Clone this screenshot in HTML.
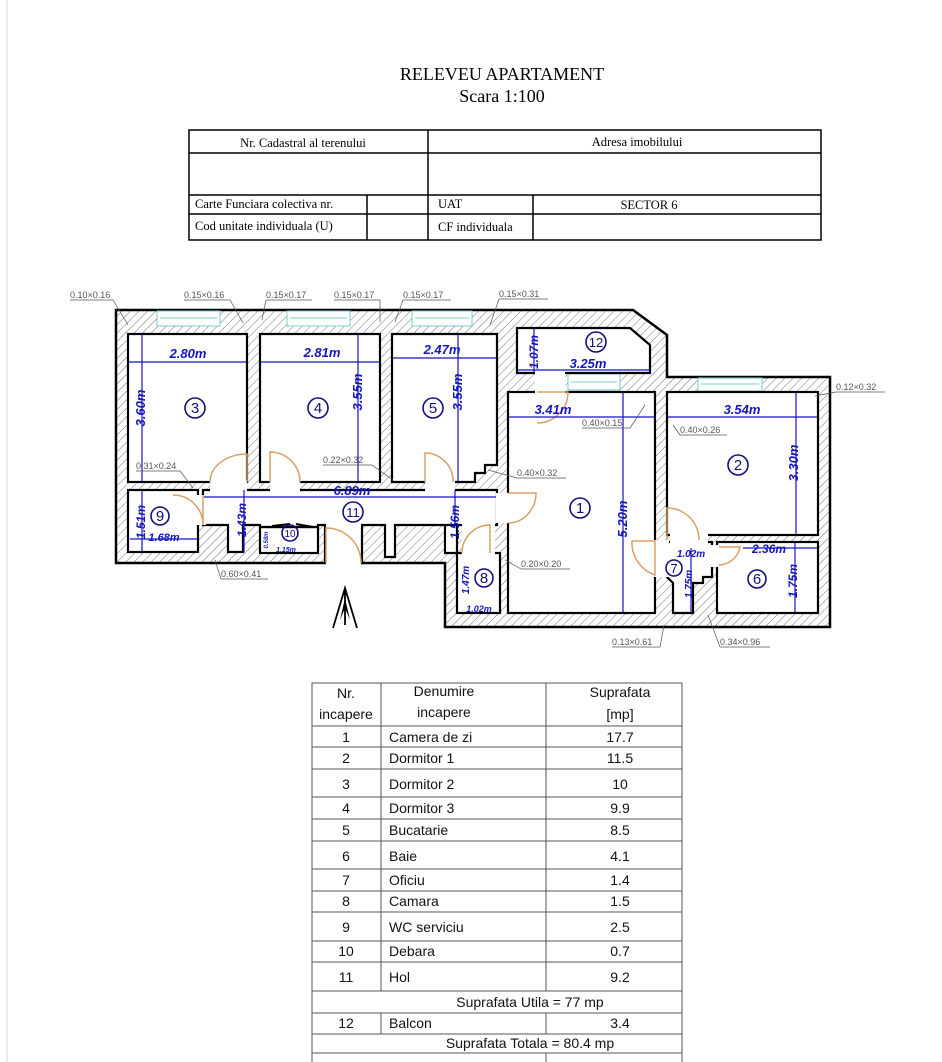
<!DOCTYPE html>
<html><head><meta charset="utf-8"><style>
html,body{margin:0;padding:0;background:#fff;}
body{width:942px;height:1062px;position:relative;overflow:hidden;font-family:"Liberation Sans",sans-serif;}
svg{position:absolute;left:0;top:0;}
</style></head><body>
<svg width="942" height="1062" viewBox="0 0 942 1062" xmlns="http://www.w3.org/2000/svg">
<defs>
<pattern id="h" width="6" height="6" patternUnits="userSpaceOnUse" patternTransform="rotate(45)">
<rect width="6" height="6" fill="#fff"/><line x1="0" y1="0" x2="0" y2="6" stroke="#666" stroke-width="0.9"/>
</pattern>
</defs>
<line x1="7" y1="0" x2="7" y2="1062" stroke="#ddd"/>
<text x="502" y="80" font-family="Liberation Serif" font-size="18" text-anchor="middle">RELEVEU APARTAMENT</text>
<text x="502" y="102" font-family="Liberation Serif" font-size="18" text-anchor="middle">Scara 1:100</text>
<g stroke="#000" stroke-width="1.5" fill="none">
<rect x="189" y="130" width="632" height="110"/>
<line x1="189" y1="153" x2="821" y2="153"/>
<line x1="189" y1="195" x2="821" y2="195"/>
<line x1="189" y1="214" x2="821" y2="214"/>
<line x1="428" y1="130" x2="428" y2="240"/>
<line x1="367" y1="195" x2="367" y2="240"/>
<line x1="533" y1="195" x2="533" y2="240"/>
</g>
<g font-family="Liberation Serif" font-size="12.5">
<text x="303" y="147" text-anchor="middle">Nr. Cadastral al terenului</text>
<text x="637" y="146" text-anchor="middle">Adresa imobilului</text>
<text x="195" y="208">Carte Funciara colectiva nr.</text>
<text x="438" y="208">UAT</text>
<text x="649" y="209" text-anchor="middle">SECTOR 6</text>
<text x="195" y="230">Cod unitate individuala   (U)</text>
<text x="438" y="231">CF   individuala</text>
</g>

<path d="M116,310 L633,310 L667,335 L667,377 L830,377 L830,627 L445,627 L445,563 L116,563 Z" fill="url(#h)" stroke="#000" stroke-width="2.5"/>
<g fill="#fff" stroke="#7cc" stroke-width="1">
<rect x="157" y="311" width="63" height="15"/><line x1="160" y1="318" x2="217" y2="318"/>
<rect x="287" y="311" width="63" height="15"/><line x1="290" y1="318" x2="347" y2="318"/>
<rect x="412" y="311" width="60" height="15"/><line x1="415" y1="318" x2="469" y2="318"/>
<rect x="568" y="374" width="52" height="16"/><line x1="571" y1="382" x2="617" y2="382"/>
<rect x="698" y="378" width="64" height="13"/><line x1="701" y1="384" x2="759" y2="384"/>
</g>
<g fill="#fff" stroke="#000" stroke-width="2.2">
<rect x="128" y="334" width="119" height="148"/>
<rect x="260" y="334" width="120" height="148"/>
<path d="M392,334 L497,334 L497,465 L485,465 L485,473 L475,473 L475,482 L392,482 Z"/>
<path d="M517,328 L630,328 L650,345 L650,373 L517,373 Z"/>
<rect x="508" y="392" width="147" height="221"/>
<rect x="667" y="392" width="151" height="143"/>
<rect x="717" y="542" width="101" height="71"/>
<path d="M667,542 L712,542 L712,577 L703,577 L703,583 L693,583 L693,613 L673,613 L673,583 L667,577 Z"/>
<rect x="128" y="490" width="70" height="62"/>
<rect x="260" y="527" width="58" height="26"/>
<rect x="457" y="553" width="43" height="60"/>
<path d="M203,490 L497,490 L497,525 L445,525 L445,553 L457,553 L457,525 L395,525 L395,557 L385,557 L385,525 L362,525 L362,563 L325,563 L325,525 L318,525 L318,527 L260,527 L260,525 L243,525 L243,552 L228,552 L228,525 L203,525 Z"/>
</g>
<g fill="#fff" stroke="none">
<rect x="210" y="480" width="37" height="12"/>
<rect x="270" y="480" width="30" height="12"/>
<rect x="425" y="480" width="30" height="12"/>
<rect x="496" y="493" width="14" height="30"/>
<rect x="196" y="495" width="10" height="30"/>
<rect x="326" y="555" width="35" height="10"/>
<rect x="462" y="523" width="33" height="32"/>
<rect x="535" y="371" width="30" height="23"/>
<rect x="653" y="540" width="16" height="37"/>
<rect x="670" y="533" width="38" height="11"/>
<rect x="709" y="545" width="10" height="22"/>
<rect x="326" y="523" width="35" height="4"/>
</g>
<g fill="none" stroke="#d9a066" stroke-width="1.5">
<path d="M247,482 L247,454 A37,28 0 0 0 210,482"/>
<path d="M270,482 L270,452 A30,30 0 0 1 300,482"/>
<path d="M425,482 L425,453 A28,28 0 0 1 453,482"/>
<path d="M508,493 L536,493 A28,30 0 0 1 508,523"/>
<path d="M203,495 L203,525 A30,30 0 0 0 173,495"/>
<path d="M326,563 L326,528 A35,35 0 0 1 361,563"/>
<path d="M490,553 L490,525 A28,28 0 0 0 462,553"/>
<path d="M537,392 L568,392 A31,31 0 0 1 537,423"/>
<path d="M667,540 L667,508 A32,32 0 0 1 699,540"/>
<path d="M655,541 L655,575 A34,34 0 0 1 632,541 Z"/>
<path d="M719,547 L740,547 A22,22 0 0 1 719,565"/>
</g>
<path d="M272,526 L290,524 M296,524 L313,527" stroke="#000" stroke-width="2" fill="none"/>

<g stroke="#1515c0" stroke-width="1.2" fill="none">
<line x1="129" y1="362" x2="246" y2="362"/>
<line x1="261" y1="362" x2="379" y2="362"/>
<line x1="393" y1="358" x2="496" y2="358"/>
<line x1="518" y1="370" x2="650" y2="370"/>
<line x1="509" y1="417" x2="654" y2="417"/>
<line x1="668" y1="417" x2="817" y2="417"/>
<line x1="204" y1="497" x2="496" y2="497"/>
<line x1="743" y1="548" x2="817" y2="548"/>
<line x1="142" y1="334" x2="142" y2="482"/>
<line x1="358" y1="334" x2="358" y2="482"/>
<line x1="458" y1="334" x2="458" y2="482"/>
<line x1="534" y1="329" x2="534" y2="372"/>
<line x1="623" y1="393" x2="623" y2="612"/>
<line x1="796" y1="393" x2="796" y2="534"/>
<line x1="455" y1="490" x2="455" y2="525"/>
<line x1="244" y1="490" x2="244" y2="552"/>
<line x1="142" y1="490" x2="142" y2="552"/>
<line x1="130" y1="539" x2="197" y2="539"/>
<line x1="691" y1="548" x2="691" y2="612"/>
<line x1="795" y1="543" x2="795" y2="612"/>
</g>
<g fill="#1515c0" font-family="Liberation Sans" font-weight="bold" font-style="italic" font-size="13" text-anchor="middle">
<text x="188" y="358">2.80m</text>
<text x="322" y="357">2.81m</text>
<text x="442" y="354">2.47m</text>
<text x="588" y="368">3.25m</text>
<text x="553" y="414">3.41m</text>
<text x="742" y="414">3.54m</text>
<text x="352" y="495">6.89m</text>
<text x="769" y="553" font-size="12">2.36m</text>
<text x="164" y="541" font-size="11">1.68m</text>
<text x="479" y="612" font-size="9">1.02m</text>
<text x="691" y="557" font-size="10">1.02m</text>
<text x="286" y="552" font-size="7">1.15m</text>
<text transform="translate(145,408) rotate(-90)">3.60m</text>
<text transform="translate(362,392) rotate(-90)">3.55m</text>
<text transform="translate(462,392) rotate(-90)">3.55m</text>
<text transform="translate(538,352) rotate(-90)" font-size="12">1.07m</text>
<text transform="translate(627,519) rotate(-90)">5.20m</text>
<text transform="translate(798,463) rotate(-90)">3.30m</text>
<text transform="translate(459,522) rotate(-90)" font-size="12">1.56m</text>
<text transform="translate(246,520) rotate(-90)" font-size="12">1.43m</text>
<text transform="translate(145,522) rotate(-90)" font-size="12">1.51m</text>
<text transform="translate(469,580) rotate(-90)" font-size="10">1.47m</text>
<text transform="translate(692,584) rotate(-90)" font-size="10">1.75m</text>
<text transform="translate(797,581) rotate(-90)" font-size="12">1.75m</text>
<text transform="translate(268,540) rotate(-90)" font-size="6">0.58m</text>
</g>
<g fill="none" stroke="#10107a" stroke-width="1.6">
<circle cx="195" cy="408" r="10"/><circle cx="318" cy="408" r="10"/><circle cx="433" cy="408" r="10"/>
<circle cx="596" cy="342" r="10"/><circle cx="580" cy="508" r="10"/><circle cx="738" cy="465" r="10"/>
<circle cx="160" cy="516" r="9"/><circle cx="353" cy="512" r="10"/><circle cx="290" cy="533" r="8"/>
<circle cx="484" cy="578" r="9"/><circle cx="674" cy="568" r="8"/><circle cx="757" cy="579" r="9"/>
</g>
<g fill="#10107a" font-family="Liberation Sans" font-size="15" text-anchor="middle">
<text x="195" y="413">3</text><text x="318" y="413">4</text><text x="433" y="413">5</text>
<text x="596" y="347" font-size="13">12</text><text x="580" y="513">1</text><text x="738" y="470">2</text>
<text x="160" y="521">9</text><text x="353" y="517" font-size="13">11</text><text x="290" y="537" font-size="10">10</text>
<text x="484" y="583">8</text><text x="674" y="573" font-size="13">7</text><text x="757" y="584">6</text>
</g>
<g fill="#555" font-family="Liberation Sans" font-size="9">
<text x="70" y="298">0.10×0.16</text><text x="184" y="298">0.15×0.16</text>
<text x="266" y="298">0.15×0.17</text><text x="334" y="298">0.15×0.17</text>
<text x="403" y="298">0.15×0.17</text><text x="499" y="297">0.15×0.31</text>
<text x="836" y="390">0.12×0.32</text><text x="582" y="426">0.40×0.15</text>
<text x="680" y="433">0.40×0.26</text><text x="323" y="463">0.22×0.32</text>
<text x="517" y="476">0.40×0.32</text><text x="136" y="469">0.31×0.24</text>
<text x="521" y="567">0.20×0.20</text><text x="221" y="577">0.60×0.41</text>
<text x="612" y="645">0.13×0.61</text><text x="720" y="645">0.34×0.96</text>
</g>
<g stroke="#555" stroke-width="0.7" fill="none">
<path d="M70,300 L113,300 L128,325"/><path d="M184,300 L230,300 L243,323"/>
<path d="M266,300 L312,300 M266,300 L262,320"/><path d="M334,300 L380,300 L380,322"/>
<path d="M403,300 L451,300 M403,300 L395,322"/><path d="M499,299 L548,299 M499,299 L490,325"/>
<path d="M836,392 L885,392 M836,392 L815,396"/><path d="M582,428 L630,428 L645,405"/>
<path d="M680,435 L727,435 M680,435 L673,425"/><path d="M323,465 L372,465 L393,480"/>
<path d="M517,478 L566,478 M517,478 L488,470"/><path d="M136,471 L180,471 L193,488"/>
<path d="M521,569 L570,569 M521,569 L505,560"/><path d="M221,579 L268,579 M221,579 L215,560"/>
<path d="M612,647 L660,647 L664,625"/><path d="M720,647 L770,647 M720,647 L708,615"/>
</g>
<path d="M333,628 L345,588 L357,628 M345,588 L345,625" fill="none" stroke="#000" stroke-width="1.8"/>
<path d="M340,620 L345,598 L350,620 L345,608 Z" fill="#000"/>

<g stroke="#555" stroke-width="1" fill="none">
<rect x="312" y="683" width="370" height="385"/>
<line x1="381" y1="683" x2="381" y2="991"/><line x1="546" y1="683" x2="546" y2="991"/>
<line x1="381" y1="1013" x2="381" y2="1034"/><line x1="546" y1="1013" x2="546" y2="1034"/>
<line x1="546" y1="1053" x2="546" y2="1062"/>
<line x1="312" y1="726" x2="682" y2="726"/><line x1="312" y1="747" x2="682" y2="747"/>
<line x1="312" y1="769" x2="682" y2="769"/><line x1="312" y1="797" x2="682" y2="797"/>
<line x1="312" y1="819" x2="682" y2="819"/><line x1="312" y1="841" x2="682" y2="841"/>
<line x1="312" y1="869" x2="682" y2="869"/><line x1="312" y1="891" x2="682" y2="891"/>
<line x1="312" y1="912" x2="682" y2="912"/><line x1="312" y1="941" x2="682" y2="941"/>
<line x1="312" y1="962" x2="682" y2="962"/><line x1="312" y1="991" x2="682" y2="991"/>
<line x1="312" y1="1013" x2="682" y2="1013"/><line x1="312" y1="1034" x2="682" y2="1034"/>
<line x1="312" y1="1053" x2="682" y2="1053"/>
</g>
<g font-family="Liberation Sans" font-size="14" fill="#111">
<g text-anchor="middle">
<text x="346" y="698">Nr.</text><text x="346" y="719">incapere</text>
<text x="444" y="696">Denumire</text><text x="444" y="717">incapere</text>
<text x="620" y="697">Suprafata</text><text x="620" y="719">[mp]</text>
<text x="346" y="742">1</text><text x="346" y="763">2</text><text x="346" y="789">3</text>
<text x="346" y="813">4</text><text x="346" y="835">5</text><text x="346" y="861">6</text>
<text x="346" y="885">7</text><text x="346" y="906">8</text><text x="346" y="932">9</text>
<text x="346" y="956">10</text><text x="346" y="982">11</text><text x="346" y="1028">12</text>
<text x="620" y="742">17.7</text><text x="620" y="763">11.5</text><text x="620" y="789">10</text>
<text x="620" y="813">9.9</text><text x="620" y="835">8.5</text><text x="620" y="861">4.1</text>
<text x="620" y="885">1.4</text><text x="620" y="906">1.5</text><text x="620" y="932">2.5</text>
<text x="620" y="956">0.7</text><text x="620" y="982">9.2</text><text x="620" y="1028">3.4</text>
<text x="530" y="1007">Suprafata Utila = 77 mp</text>
<text x="530" y="1048">Suprafata Totala = 80.4 mp</text>
</g>
<text x="389" y="742">Camera de zi</text><text x="389" y="763">Dormitor 1</text>
<text x="389" y="789">Dormitor 2</text><text x="389" y="813">Dormitor 3</text>
<text x="389" y="835">Bucatarie</text><text x="389" y="861">Baie</text>
<text x="389" y="885">Oficiu</text><text x="389" y="906">Camara</text>
<text x="389" y="932">WC serviciu</text><text x="389" y="956">Debara</text>
<text x="389" y="982">Hol</text><text x="389" y="1028">Balcon</text>
</g>
</svg>
</body></html>
